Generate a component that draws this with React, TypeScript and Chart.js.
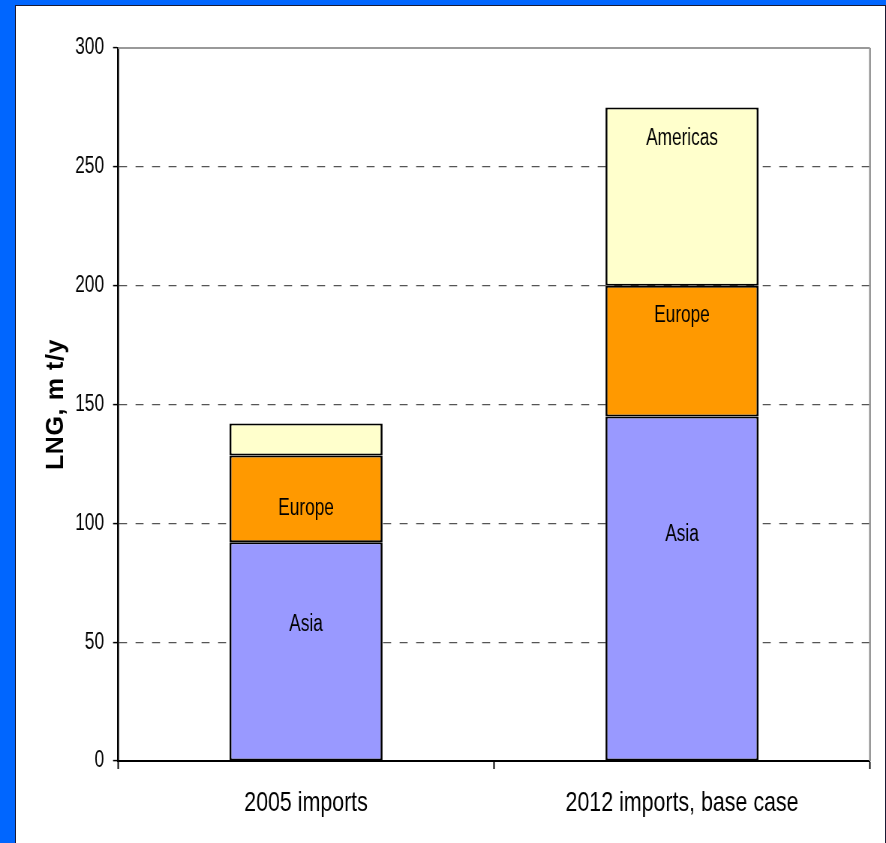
import React, { useEffect, useRef } from "react";
import { Chart, registerables } from "chart.js";

Chart.register(...registerables);

// ---- data ----
const categories = ["2005 imports", "2012 imports, base case"];
const seriesNames = ["Asia", "Europe", "Americas"];
const asiaValues = [92, 145];
const europeValues = [36.5, 55];
const americasValues = [13.5, 75];
const yTickMin = 0;
const yTickMax = 300;
const yTickStep = 50;
const yTitle = "LNG, m t/y";
// in-bar annotation text per series (empty = no label) and the value level where it sits
const asiaLabels = ["Asia", "Asia"];
const europeLabels = ["Europe", "Europe"];
const americasLabels = ["", "Americas"];
const asiaLabelAt = [57.4, 95.1];
const europeLabelAt = [106.2, 187.2];
const americasLabelAt = [0, 262];

const SANS = '"Liberation Sans", Arial, sans-serif';

const W = 886;
const H = 843;
// the original slide is horizontally squeezed; draw wider and squeeze the canvas to match
const SQUEEZE = 0.75;
const IW = Math.round(W / SQUEEZE);
const px = (v: number) => v / SQUEEZE; // page-x length -> canvas-x length

export default function App() {
  const ref = useRef<HTMLCanvasElement | null>(null);

  useEffect(() => {
    const canvas = ref.current;
    if (!canvas) return;

    const labelSets = [asiaLabels, europeLabels, americasLabels];
    const labelLevels = [asiaLabelAt, europeLabelAt, americasLabelAt];

    const segmentLabels = {
      id: "segmentLabels",
      afterDatasetsDraw(chart: any) {
        const ctx = chart.ctx;
        const yScale = chart.scales.y;
        ctx.save();
        ctx.fillStyle = "#000";
        ctx.font = `23px ${SANS}`;
        ctx.textAlign = "center";
        ctx.textBaseline = "middle";
        chart.data.datasets.forEach((_ds: any, i: number) => {
          const meta = chart.getDatasetMeta(i);
          meta.data.forEach((bar: any, j: number) => {
            const txt = labelSets[i][j];
            if (!txt) return;
            ctx.fillText(txt, bar.x, yScale.getPixelForValue(labelLevels[i][j]));
          });
        });
        ctx.restore();
      },
    };

    // y-axis title, drawn unsqueezed (the title in the original keeps its width)
    const axisTitle = {
      id: "axisTitle",
      afterDraw(chart: any) {
        const yScale = chart.scales.y;
        const ctx = chart.ctx;
        const cy = (yScale.top + yScale.bottom) / 2;
        ctx.save();
        ctx.translate(yScale.left + px(56), cy);
        ctx.scale(1 / SQUEEZE, 1);
        ctx.rotate(-Math.PI / 2);
        ctx.fillStyle = "#000";
        ctx.font = `bold 25px ${SANS}`;
        ctx.textAlign = "center";
        ctx.textBaseline = "middle";
        try {
          (ctx as any).letterSpacing = "0.6px";
        } catch (e) {}
        ctx.fillText(yTitle, 0, 0);
        ctx.restore();
      },
    };

    const plotFrame = {
      id: "plotFrame",
      afterDraw(chart: any) {
        const { left, right, top, bottom } = chart.chartArea;
        const ctx = chart.ctx;
        ctx.save();
        ctx.strokeStyle = "#999";
        ctx.setLineDash([]);
        ctx.lineWidth = 2;
        ctx.beginPath();
        ctx.moveTo(left, top);
        ctx.lineTo(right, top);
        ctx.stroke();
        ctx.lineWidth = px(2);
        ctx.beginPath();
        ctx.moveTo(right, top);
        ctx.lineTo(right, bottom);
        ctx.stroke();
        ctx.restore();
      },
    };

    const mkDs = (label: string, data: number[], color: string) => ({
      label,
      data,
      backgroundColor: color,
      borderColor: "#000",
      borderWidth: { top: 2, bottom: 2, left: px(2), right: px(2) },
      borderSkipped: false,
      categoryPercentage: 1,
      barPercentage: 0.407,
    });

    const chart = new Chart(canvas, {
      type: "bar",
      data: {
        labels: categories,
        datasets: [
          mkDs(seriesNames[0], asiaValues, "#9999FF"),
          mkDs(seriesNames[1], europeValues, "#FF9900"),
          mkDs(seriesNames[2], americasValues, "#FFFFCC"),
        ],
      },
      options: {
        responsive: false,
        animation: false,
        devicePixelRatio: 1,
        layout: { padding: { top: 48, right: px(16), left: 0, bottom: 0 } },
        plugins: {
          legend: { display: false },
          tooltip: { enabled: false },
        },
        scales: {
          x: {
            stacked: true,
            grid: {
              drawOnChartArea: false,
              drawTicks: true,
              tickLength: 8,
              tickColor: "#000",
              tickWidth: px(1.5),
              offset: true,
            },
            border: { color: "#000", width: 2 },
            ticks: {
              color: "#000",
              font: { family: SANS, size: 28.5 },
              padding: 17,
              maxRotation: 0,
            },
            afterFit: (s: any) => {
              s.height = 82;
            },
          },
          y: {
            stacked: true,
            min: yTickMin,
            max: yTickMax,
            ticks: {
              stepSize: yTickStep,
              color: "#000",
              font: { family: SANS, size: 23 },
              padding: px(9),
            },
            grid: {
              color: (c: any) =>
                c.tick && (c.tick.value === yTickMin || c.tick.value === yTickMax)
                  ? "rgba(0,0,0,0)"
                  : "#555",
              lineWidth: 1.2,
              tickLength: px(5),
              tickColor: "#000",
              tickWidth: 1.5,
              tickBorderDash: [],
            },
            border: { color: "#000", width: px(2), dash: [px(8), px(8.5)] },
            title: { display: false, text: yTitle },
            afterFit: (s: any) => {
              s.width = px(118);
            },
          },
        },
      },
      plugins: [segmentLabels, plotFrame, axisTitle],
    } as any);

    return () => chart.destroy();
  }, []);

  return (
    <div
      style={{
        position: "fixed",
        left: 0,
        top: 0,
        width: W,
        height: H,
        background: "#0066FF",
        overflow: "hidden",
      }}
    >
      <div
        style={{
          position: "absolute",
          left: 15,
          top: 5,
          width: 869,
          height: 860,
          background: "#fff",
          border: "1.5px solid #1a1a33",
        }}
      />
      <canvas
        ref={ref}
        width={IW}
        height={H}
        style={{ position: "absolute", left: 0, top: 0, width: W, height: H }}
      />
    </div>
  );
}
